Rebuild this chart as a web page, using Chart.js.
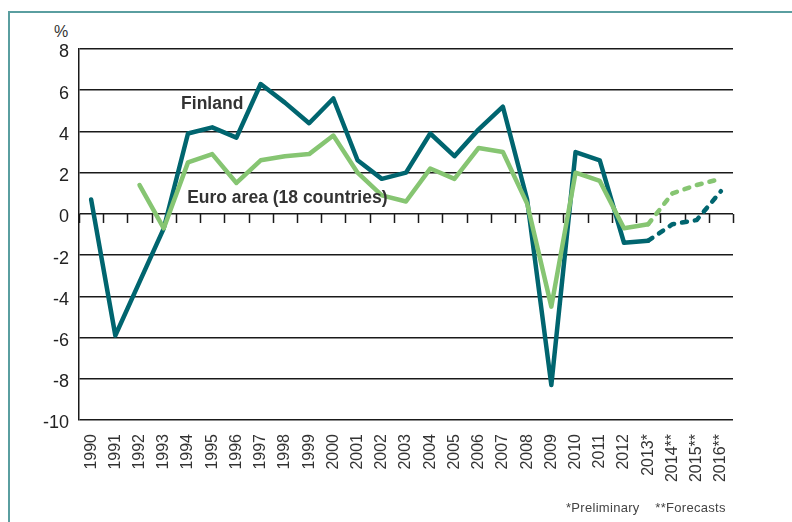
<!DOCTYPE html>
<html>
<head>
<meta charset="utf-8">
<script src="https://cdn.jsdelivr.net/npm/chart.js@4.4.1/dist/chart.umd.min.js"></script>
<style>
    html, body { margin: 0; padding: 0; background: #fff; }
    body { width: 792px; height: 522px; position: relative; overflow: hidden; font-family: "Liberation Sans", Arial, sans-serif; }
    .frame { position: absolute; left: 8px; top: 11px; width: 800px; height: 520px; border-top: 2px solid #5a9ea0; border-left: 2px solid #5a9ea0; }
    #chartWrap { position: absolute; left: 0; top: 0; width: 792px; height: 522px; }
    .unit { position: absolute; left: 54px; top: 23px; font-size: 16px; color: #333; }
    .note { position: absolute; left: 566px; top: 500px; font-size: 13px; color: #444; letter-spacing: 0.3px; white-space: pre; }
</style>
</head>
<body>
<div class="frame"></div>
<div class="unit">%</div>
<div id="chartWrap"><canvas id="gdpChart" width="792" height="522"></canvas></div>
<div class="note">*Preliminary    **Forecasts</div>

<script>
// Years on the x axis (* preliminary, ** forecasts)
const years = ['1990', '1991', '1992', '1993', '1994', '1995', '1996', '1997', '1998', '1999',
    '2000', '2001', '2002', '2003', '2004', '2005', '2006', '2007', '2008', '2009',
    '2010', '2011', '2012', '2013*', '2014**', '2015**', '2016**'];

// GDP volume change, %
const finland = [0.7, -5.9, -3.3, -0.7, 3.9, 4.2, 3.7, 6.3, 5.4, 4.4,
    5.6, 2.6, 1.7, 2.0, 3.9, 2.8, 4.1, 5.2, 0.7, -8.3,
    3.0, 2.6, -1.4, -1.3, -0.5, -0.3, 1.1];
const euroArea = [null, null, 1.4, -0.7, 2.5, 2.9, 1.5, 2.6, 2.8, 2.9,
    3.8, 2.0, 0.9, 0.6, 2.2, 1.7, 3.2, 3.0, 0.5, -4.5,
    2.0, 1.6, -0.7, -0.5, 1.0, 1.4, 1.7];

const yTicks = [-10, -8, -6, -4, -2, 0, 2, 4, 6, 8];

// first index whose following segment is a forecast (2013 -> 2014)
const forecastFrom = 23;

const seriesLabels = [
    { text: 'Finland', x: 5, y: 5.3 },
    { text: 'Euro area (18 countries)', x: 8.1, y: 0.75 }
];

const teal = '#00656f';
const green = '#86c572';

// small ticks under the zero line at every category boundary
const zeroTicks = {
    id: 'zeroTicks',
    beforeDatasetsDraw(chart) {
        const { ctx } = chart;
        const xs = chart.scales.x, ys = chart.scales.y;
        const y0 = ys.getPixelForValue(0);
        ctx.save();
        ctx.strokeStyle = '#1a1a1a';
        ctx.lineWidth = 1.5;
        ctx.beginPath();
        for (let i = 0; i <= years.length; i++) {
            const x = Math.round(xs.getPixelForValue(i - 0.5)) + 0.5;
            ctx.moveTo(x, y0);
            ctx.lineTo(x, y0 + 9);
        }
        ctx.stroke();
        ctx.restore();
    }
};

// series names written next to the lines
const lineNames = {
    id: 'lineNames',
    afterDatasetsDraw(chart) {
        const { ctx } = chart;
        const xs = chart.scales.x, ys = chart.scales.y;
        ctx.save();
        ctx.font = 'bold 17.5px "Liberation Sans", Arial, sans-serif';
        ctx.fillStyle = '#333';
        ctx.textAlign = 'center';
        ctx.textBaseline = 'middle';
        seriesLabels.forEach(l => {
            ctx.fillText(l.text, xs.getPixelForValue(l.x), ys.getPixelForValue(l.y));
        });
        ctx.restore();
    }
};

const dashed = (c) => c.p0DataIndex >= forecastFrom ? [5, 8] : undefined;

const lineStyle = {
    borderWidth: 4.5,
    borderJoinStyle: 'round',
    borderCapStyle: 'round',
    pointRadius: 0,
    tension: 0,
    segment: { borderDash: dashed }
};

new Chart(document.getElementById('gdpChart'), {
    type: 'line',
    data: {
        labels: years,
        datasets: [{
            ...lineStyle,
            label: 'Euro area (18 countries)',
            data: euroArea,
            borderColor: green,
            spanGaps: false
        }, {
            ...lineStyle,
            label: 'Finland',
            data: finland,
            borderColor: teal
        }]
    },
    options: {
        responsive: false,
        animation: false,
        devicePixelRatio: 1,
        layout: { padding: { left: 0, right: 59, top: 49, bottom: 0 } },
        plugins: {
            legend: { display: false },
            tooltip: { enabled: false }
        },
        scales: {
            x: {
                offset: true,
                grid: { display: false },
                border: { display: false },
                ticks: {
                    minRotation: 90,
                    maxRotation: 90,
                    autoSkip: false,
                    padding: 6,
                    color: '#333',
                    font: { family: '"Liberation Sans", Arial, sans-serif', size: 16 }
                },
                afterFit: s => { s.height = 102; }
            },
            y: {
                min: -10,
                max: 8,
                afterBuildTicks: s => { s.ticks = yTicks.map(v => ({ value: v })); },
                grid: { color: '#1a1a1a', lineWidth: 1.5, drawTicks: false },
                border: { display: true, color: '#1a1a1a', width: 1.5 },
                ticks: {
                    padding: 10,
                    labelOffset: 3.5,
                    color: '#222',
                    font: { family: '"Liberation Sans", Arial, sans-serif', size: 18 }
                },
                afterFit: s => { s.width = 79; }
            }
        }
    },
    plugins: [zeroTicks, lineNames]
});
</script>
</body>
</html>
